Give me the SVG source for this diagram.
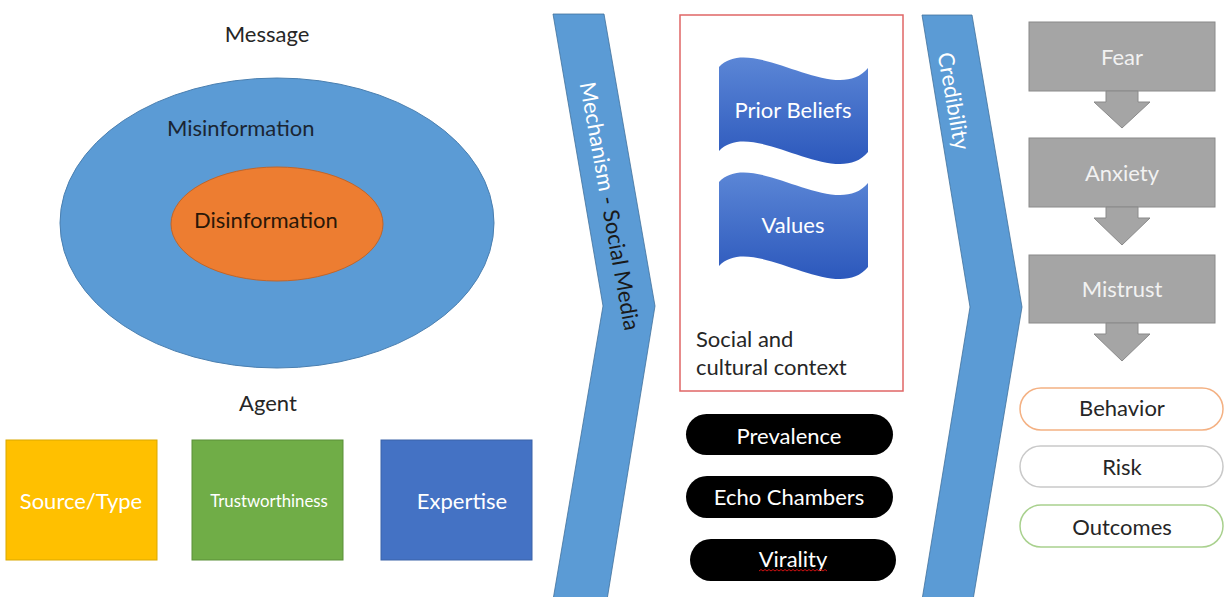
<svg xmlns="http://www.w3.org/2000/svg" width="1225" height="597" viewBox="0 0 1225 597">
  <style>
    .t { font-family: Lato, "Open Sans", "Liberation Sans", sans-serif; font-size: 22px; }
    .mid { text-anchor: middle; }
    .dark { fill: #262626; }
    .white { fill: #ffffff; }
    .grayfill { fill: #a5a5a5; stroke: #8a8a8a; stroke-width: 1; }
    .grayTxt { fill: #f2f2f2; }
    .pill { fill: #000000; }
    .outl { fill: #ffffff; stroke-width: 1.5; }
    .chev { fill: #5b9bd5; stroke: #41719c; stroke-width: 0.8; }
  </style>
  <defs>
    <linearGradient id="waveGrad" x1="0" y1="0" x2="0" y2="1">
      <stop offset="0" stop-color="#5b86d6"/>
      <stop offset="1" stop-color="#2c58bc"/>
    </linearGradient>
    <path id="wave" d="M719,67 C752,32 835,108 868,68 L868,152 C835,192 752,116 719,151 Z"/>
  </defs>

  <rect width="1225" height="597" fill="#ffffff"/>

  <!-- Message: nested ellipses -->
  <g id="message">
    <text class="t mid dark" x="267" y="42">Message</text>
  </g>
  <g id="misinformation">
    <ellipse cx="277" cy="223" rx="217" ry="145" fill="#5b9bd5" stroke="#4a7fb0" stroke-width="1"/>
    <text class="t" x="167" y="136" fill="#1a2533">Misinformation</text>
  </g>
  <g id="disinformation">
    <ellipse cx="277" cy="224" rx="106" ry="57" fill="#ed7d31" stroke="#c0652a" stroke-width="1"/>
    <text class="t" x="194" y="228" fill="#2a1708">Disinformation</text>
  </g>

  <!-- Agent boxes -->
  <g id="agent">
    <text class="t mid dark" x="268" y="411">Agent</text>
  </g>
  <g id="source-type">
    <rect x="6" y="440" width="151" height="120" fill="#ffc000" stroke="#d9a800" stroke-width="1"/>
    <text class="t mid white" x="81" y="509">Source/Type</text>
  </g>
  <g id="trustworthiness">
    <rect x="192" y="440" width="151" height="120" fill="#70ad47" stroke="#5a8f38" stroke-width="1"/>
    <text class="t mid white" x="269" y="507" style="font-size:16.8px">Trustworthiness</text>
  </g>
  <g id="expertise">
    <rect x="381" y="440" width="151" height="120" fill="#4472c4" stroke="#3a62a8" stroke-width="1"/>
    <text class="t mid white" x="462" y="509">Expertise</text>
  </g>

  <!-- Chevron: Mechanism - Social Media -->
  <g id="mechanism">
    <polygon class="chev" points="553,14 604,14 655,306 607,600 553,600 603,306"/>
    <text class="t mid" transform="translate(610,206) rotate(79.7)" y="8"><tspan fill="#ffffff">Mechanism</tspan><tspan fill="#1a1a1a"> - Social Media</tspan></text>
  </g>

  <!-- Social and cultural context -->
  <g id="context">
    <rect x="680" y="15" width="223" height="376" fill="none" stroke="#e06666" stroke-width="1.5"/>
    <text class="t dark" x="696" y="347">Social and</text>
    <text class="t dark" x="696" y="375">cultural context</text>
  </g>
  <g id="prior-beliefs">
    <use href="#wave" fill="url(#waveGrad)"/>
    <text class="t mid white" x="793" y="118">Prior Beliefs</text>
  </g>
  <g id="values">
    <use href="#wave" transform="translate(0,115)" fill="url(#waveGrad)"/>
    <text class="t mid white" x="793" y="233">Values</text>
  </g>

  <!-- Social media factors -->
  <g id="prevalence">
    <rect class="pill" x="686" y="414" width="207" height="41" rx="20.5"/>
    <text class="t mid white" x="789" y="444">Prevalence</text>
  </g>
  <g id="echo-chambers">
    <rect class="pill" x="686" y="476" width="207" height="42" rx="21"/>
    <text class="t mid white" x="789" y="505">Echo Chambers</text>
  </g>
  <g id="virality">
    <rect class="pill" x="690" y="539" width="206" height="42" rx="21"/>
    <text class="t mid white" x="793" y="567">Virality</text>
    <polyline points="759,571 761,569.5 763,571 765,569.5 767,571 769,569.5 771,571 773,569.5 775,571 777,569.5 779,571 781,569.5 783,571 785,569.5 787,571 789,569.5 791,571 793,569.5 795,571 797,569.5 799,571 801,569.5 803,571 805,569.5 807,571 809,569.5 811,571 813,569.5 815,571 817,569.5 819,571 821,569.5 823,571 825,569.5 827,571" fill="none" stroke="#d01010" stroke-width="1"/>
  </g>

  <!-- Chevron: Credibility -->
  <g id="credibility">
    <polygon class="chev" points="922,15 972,15 1022,307 973,600 922,600 970,307"/>
    <text class="t mid white" transform="translate(954,101) rotate(80)" y="8">Credibility</text>
  </g>

  <!-- Emotional response chain -->
  <g id="fear">
    <rect class="grayfill" x="1029" y="22" width="186" height="69"/>
    <text class="t mid grayTxt" x="1122" y="65">Fear</text>
  </g>
  <g id="anxiety">
    <rect class="grayfill" x="1029" y="138" width="186" height="69"/>
    <text class="t mid grayTxt" x="1122" y="181">Anxiety</text>
  </g>
  <g id="mistrust">
    <rect class="grayfill" x="1029" y="255" width="186" height="68"/>
    <text class="t mid grayTxt" x="1122" y="297">Mistrust</text>
  </g>

  <g id="connectors">
    <polygon class="grayfill" points="1106,91 1138,91 1138,102 1150,102 1122,128 1094,102 1106,102"/>
    <polygon class="grayfill" points="1106,207 1138,207 1138,218 1150,218 1122,245 1094,218 1106,218"/>
    <polygon class="grayfill" points="1106,323 1138,323 1138,334 1150,334 1122,361 1094,334 1106,334"/>
  </g>

  <!-- Outcomes -->
  <g id="behavior">
    <rect class="outl" x="1020" y="388" width="203" height="42" rx="21" stroke="#f4b183"/>
    <text class="t mid dark" x="1122" y="416">Behavior</text>
  </g>
  <g id="risk">
    <rect class="outl" x="1020" y="446" width="203" height="41" rx="20.5" stroke="#c9c9c9"/>
    <text class="t mid dark" x="1122" y="475">Risk</text>
  </g>
  <g id="outcomes">
    <rect class="outl" x="1020" y="505" width="203" height="42" rx="21" stroke="#a9d18e"/>
    <text class="t mid dark" x="1122" y="535">Outcomes</text>
  </g>
</svg>
